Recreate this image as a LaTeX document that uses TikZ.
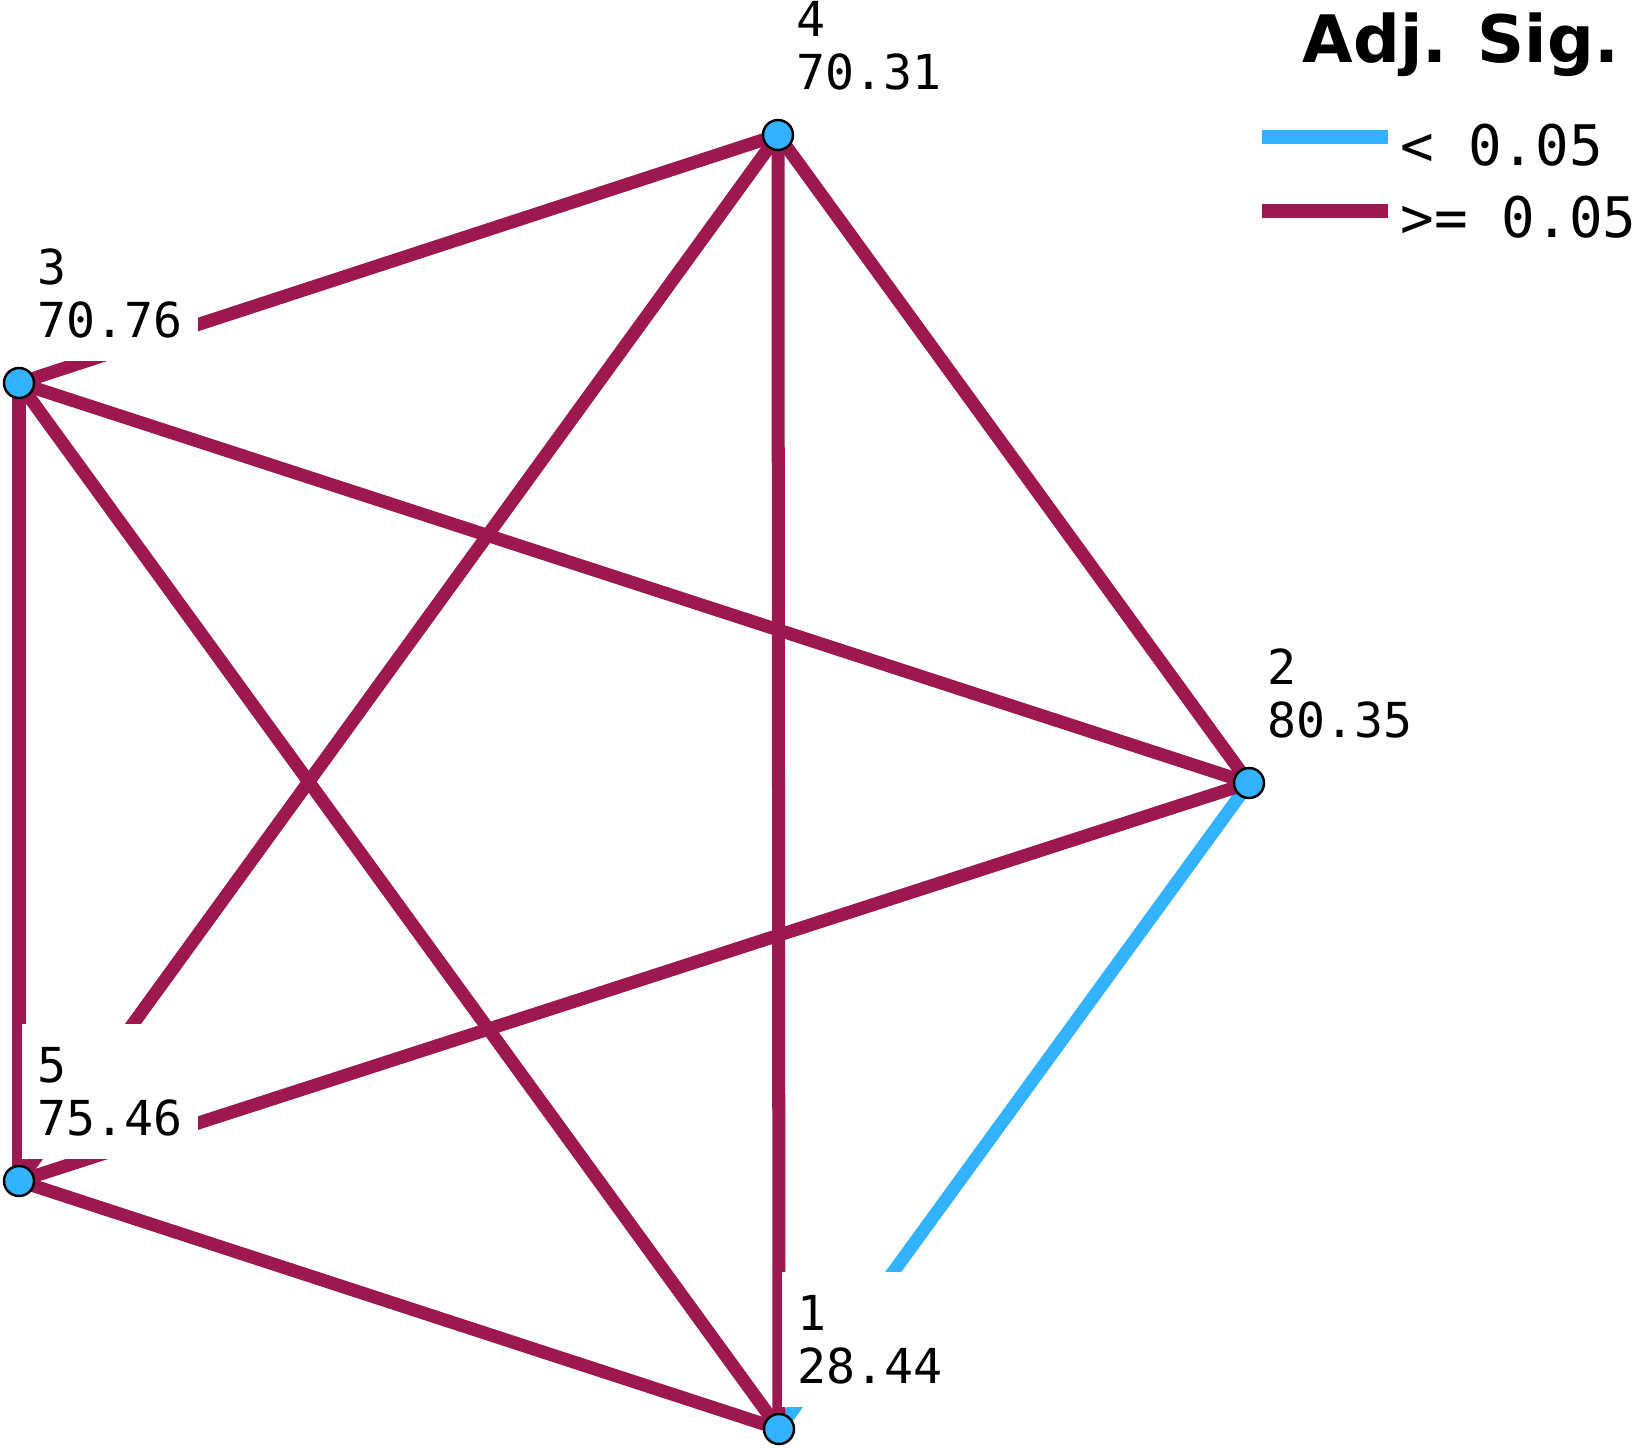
\documentclass[tikz,border=0pt]{standalone}
\usepackage{fontspec}
\usepackage{xcolor}
\usetikzlibrary{calc}
\newfontfamily\monofont{DejaVu Sans Mono}
\newfontfamily\headfont{DejaVu Sans}

\definecolor{sigblue}{RGB}{51,178,255}
\definecolor{nsmaroon}{RGB}{158,24,80}

\begin{document}
\begin{tikzpicture}[x=0.01cm, y=-0.01cm,
        edge/.style={line width=3.7pt, nsmaroon},
        sigedge/.style={line width=3.7pt, sigblue},
        dot/.style={circle, fill=sigblue, draw=black, line width=0.7pt, minimum size=0.3cm, inner sep=0pt},
        lbl/.style={fill=white, align=left, inner xsep=4.5pt, inner ysep=6.6pt, anchor=south west,
            font=\monofont\fontsize{13.7}{15.1}\selectfont},
        legtext/.style={anchor=base west, inner sep=0pt, font=\monofont\fontsize{15.9}{18}\selectfont}]

        \useasboundingbox (0,0) rectangle (1650,1448);

        \coordinate (v1) at (779,1429);
        \coordinate (v2) at (1249,783);
        \coordinate (v3) at (19,383);
        \coordinate (v4) at (778,135);
        \coordinate (v5) at (19,1181);

        % Draw edges
        \draw[sigedge] (v1) -- (v2);
        \foreach \a/\b in {1/3,1/4,1/5,2/3,2/4,2/5,3/4,3/5,4/5}{
            \draw[edge] (v\a) -- (v\b);
        }

        % Draw labels
        \foreach \i/\val in {1/28.44,2/80.35,3/70.76,4/70.31,5/75.46}{
            \node[lbl] (l\i) at ($(v\i)+(2,-21)$) {\i\\\val};
        }

        % Draw nodes
        \foreach \i in {1,...,5}{
            \node[dot] (n\i) at (v\i) {};
        }

        % Legend
        \node[anchor=base west, inner sep=0pt, font=\headfont\bfseries\fontsize{18.6}{22}\selectfont] (title) at (1302,62) {Adj. Sig.};
        \coordinate (s1) at (1262,137);
        \coordinate (s2) at (1388,137);
        \coordinate (s3) at (1262,211);
        \coordinate (s4) at (1388,211);
        \draw[sigedge] (s1) -- (s2);
        \draw[edge] (s3) -- (s4);
        \node[legtext] (t1) at (1400,165) {< 0.05};
        \node[legtext] (t2) at (1400,237) {>= 0.05};

\end{tikzpicture}
\end{document}
